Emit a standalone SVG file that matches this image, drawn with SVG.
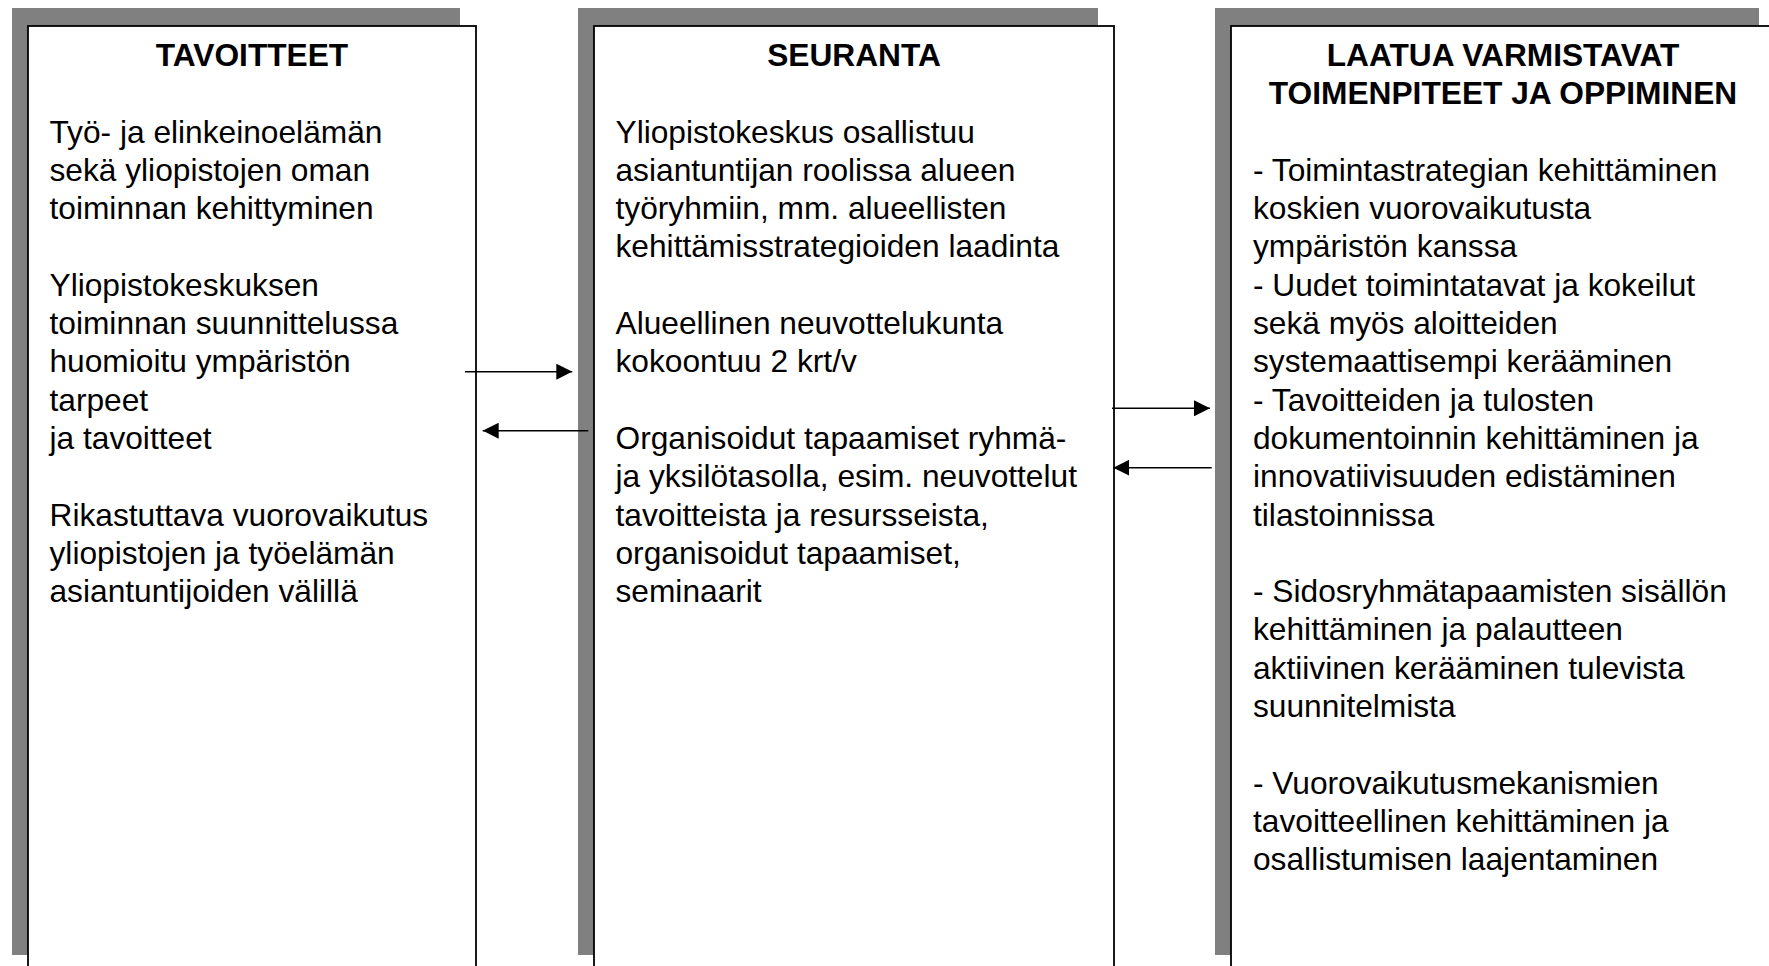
<svg xmlns="http://www.w3.org/2000/svg" width="1769" height="966" viewBox="0 0 1769 966">
<style>
.shadow{fill:#808080;stroke:none}
.box{fill:#ffffff;stroke:#000000;stroke-width:1.8}
.title{font-family:"Liberation Sans",Arial,sans-serif;font-size:31.7px;font-weight:bold;fill:#000;text-anchor:middle}
.body{font-family:"Liberation Sans",Arial,sans-serif;font-size:31.7px;fill:#000}
.conn{stroke:#000;stroke-width:1.5;fill:none;marker-end:url(#arrow)}
</style>
<defs>
<marker id="arrow" markerUnits="userSpaceOnUse" markerWidth="16" markerHeight="16" refX="16" refY="8" orient="auto">
<path d="M0,0 L16,8 L0,16 z" fill="#000"/>
</marker>
</defs>
<rect width="1769" height="966" fill="#ffffff"/>
<g id="tavoitteet">
<rect class="shadow" x="12" y="8" width="448" height="947"/>
<rect class="box" x="28" y="26" width="448" height="960"/>
<text class="title" x="252" y="65.9">TAVOITTEET</text>
<text class="body" x="49.5" y="142.5"><tspan x="49.5">Työ- ja elinkeinoelämän</tspan><tspan x="49.5" dy="38.3">sekä yliopistojen oman</tspan><tspan x="49.5" dy="38.3">toiminnan kehittyminen</tspan><tspan x="49.5" dy="76.6">Yliopistokeskuksen</tspan><tspan x="49.5" dy="38.3">toiminnan suunnittelussa</tspan><tspan x="49.5" dy="38.3">huomioitu ympäristön</tspan><tspan x="49.5" dy="38.3">tarpeet</tspan><tspan x="49.5" dy="38.3">ja tavoitteet</tspan><tspan x="49.5" dy="76.6">Rikastuttava vuorovaikutus</tspan><tspan x="49.5" dy="38.3">yliopistojen ja työelämän</tspan><tspan x="49.5" dy="38.3">asiantuntijoiden välillä</tspan></text>
</g>
<g id="seuranta">
<rect class="shadow" x="578" y="8" width="520" height="947"/>
<rect class="box" x="594" y="26" width="520" height="960"/>
<text class="title" x="854" y="65.9">SEURANTA</text>
<text class="body" x="615.5" y="142.5"><tspan x="615.5">Yliopistokeskus osallistuu</tspan><tspan x="615.5" dy="38.3">asiantuntijan roolissa alueen</tspan><tspan x="615.5" dy="38.3">työryhmiin, mm. alueellisten</tspan><tspan x="615.5" dy="38.3">kehittämisstrategioiden laadinta</tspan><tspan x="615.5" dy="76.6">Alueellinen neuvottelukunta</tspan><tspan x="615.5" dy="38.3">kokoontuu 2 krt/v</tspan><tspan x="615.5" dy="76.6">Organisoidut tapaamiset ryhmä-</tspan><tspan x="615.5" dy="38.3">ja yksilötasolla, esim. neuvottelut</tspan><tspan x="615.5" dy="38.3">tavoitteista ja resursseista,</tspan><tspan x="615.5" dy="38.3">organisoidut tapaamiset,</tspan><tspan x="615.5" dy="38.3">seminaarit</tspan></text>
</g>
<g id="laatu">
<rect class="shadow" x="1215" y="8" width="544" height="947"/>
<rect class="box" x="1231" y="26" width="544" height="960"/>
<text class="title" x="1503" y="65.9"><tspan x="1503">LAATUA VARMISTAVAT</tspan><tspan x="1503" dy="38.3">TOIMENPITEET JA OPPIMINEN</tspan></text>
<text class="body" x="1253" y="180.8"><tspan x="1253">- Toimintastrategian kehittäminen</tspan><tspan x="1253" dy="38.3">koskien vuorovaikutusta</tspan><tspan x="1253" dy="38.3">ympäristön kanssa</tspan><tspan x="1253" dy="38.3">- Uudet toimintatavat ja kokeilut</tspan><tspan x="1253" dy="38.3">sekä myös aloitteiden</tspan><tspan x="1253" dy="38.3">systemaattisempi kerääminen</tspan><tspan x="1253" dy="38.3">- Tavoitteiden ja tulosten</tspan><tspan x="1253" dy="38.3">dokumentoinnin kehittäminen ja</tspan><tspan x="1253" dy="38.3">innovatiivisuuden edistäminen</tspan><tspan x="1253" dy="38.3">tilastoinnissa</tspan><tspan x="1253" dy="76.6">- Sidosryhmätapaamisten sisällön</tspan><tspan x="1253" dy="38.3">kehittäminen ja palautteen</tspan><tspan x="1253" dy="38.3">aktiivinen kerääminen tulevista</tspan><tspan x="1253" dy="38.3">suunnitelmista</tspan><tspan x="1253" dy="76.6">- Vuorovaikutusmekanismien</tspan><tspan x="1253" dy="38.3">tavoitteellinen kehittäminen ja</tspan><tspan x="1253" dy="38.3">osallistumisen laajentaminen</tspan></text>
</g>
<g id="connectors">
<line class="conn" x1="465" y1="371.7" x2="572.3" y2="371.7"/>
<line class="conn" x1="588.3" y1="430.7" x2="482.7" y2="430.7"/>
<line class="conn" x1="1112" y1="408.3" x2="1210" y2="408.3"/>
<line class="conn" x1="1211.7" y1="467.7" x2="1113.3" y2="467.7"/>
</g>
</svg>
